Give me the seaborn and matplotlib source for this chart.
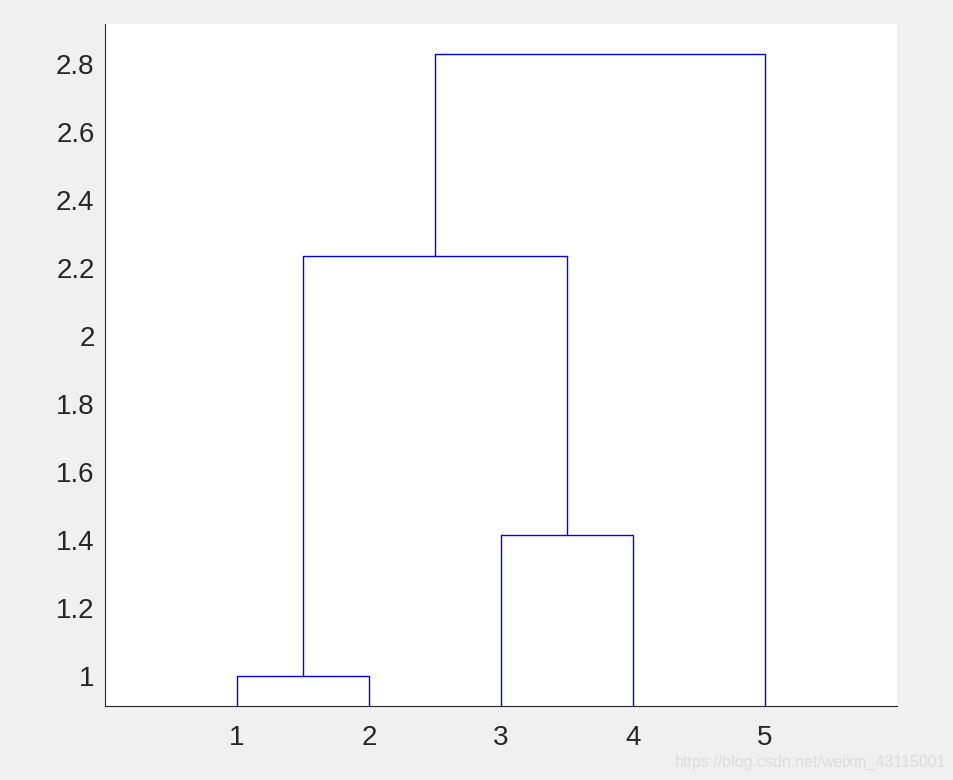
import matplotlib
matplotlib.use("Agg")
import matplotlib.pyplot as plt
import seaborn as sns
import numpy as np

# linkage (like MATLAB's dendrogram input): pairs merged and their distance
leaves = [1, 2, 3, 4, 5]
merge_a = [1, 3, 6, 8]
merge_b = [2, 4, 7, 5]
heights = [1.0, 1.4142, 2.2361, 2.8284]
yticks = [1, 1.2, 1.4, 1.6, 1.8, 2, 2.2, 2.4, 2.6, 2.8]

sns.set_style("white")
plt.rcParams['font.family'] = ['Liberation Sans', 'DejaVu Sans']

fig = plt.figure(figsize=(9.54, 7.8), dpi=100, facecolor='#f0f0f0')
ax = fig.add_axes([105/954, 1 - 706/780, (897-105)/954, (706-24)/780])
ax.set_facecolor('white')

pos = {leaf: i + 1 for i, leaf in enumerate(leaves)}
hgt = {leaf: 0.0 for leaf in leaves}
for k, (a, b, h) in enumerate(zip(merge_a, merge_b, heights)):
    node = len(leaves) + 1 + k
    xa, xb = pos[a], pos[b]
    ax.plot([xa, xa, xb, xb], [hgt[a], h, h, hgt[b]], color='#0000ff', lw=1.0)
    pos[node] = (xa + xb) / 2
    hgt[node] = h

ax.set_xlim(0, 6)
ax.set_ylim(0.9118, 2.9176)
ax.set_xticks(leaves)
ax.set_xticklabels([str(l) for l in leaves])
ax.set_yticks(yticks)
ax.set_yticklabels(['%g' % t for t in yticks])
ax.tick_params(direction='in', length=5, width=0.8, colors='#262626', labelsize=20)
ax.tick_params(axis='y', pad=7.5)
ax.tick_params(axis='x', pad=13.5)
for s in ['top', 'right']:
    ax.spines[s].set_visible(False)
for s in ['left', 'bottom']:
    ax.spines[s].set_color('#262626')
    ax.spines[s].set_linewidth(0.8)

fig.text(946/954, 1 - 762/780, 'https://blog.csdn.net/weixin_43115001', ha='right', va='center',
         fontsize=11.5, color='#dcdcdc')

fig.savefig('out.png', dpi=100, facecolor=fig.get_facecolor())
